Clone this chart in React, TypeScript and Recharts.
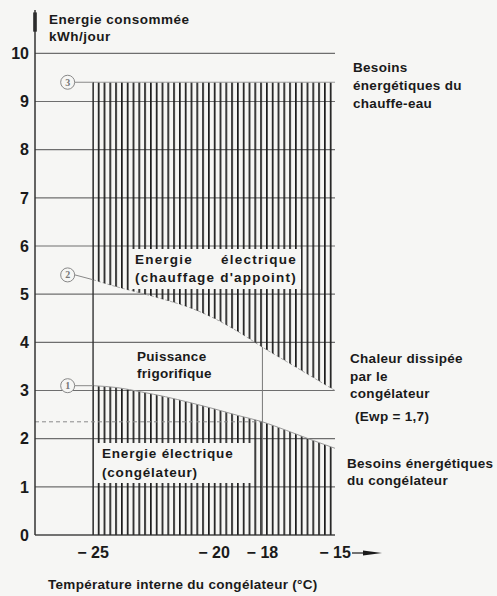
import {
  ComposedChart,
  Area,
  XAxis,
  YAxis,
  CartesianGrid,
  ReferenceLine,
  ReferenceDot,
} from 'recharts'

// temperature interne (°C) and energies (kWh/jour)
const temperatures = [-25, -24, -23, -22, -21, -20, -19, -18, -17, -16, -15]
const besoinsCongelateur = [3.1, 3.06, 2.97, 2.87, 2.75, 2.62, 2.48, 2.35, 2.17, 1.98, 1.8]
const chaleurDissipee = [5.3, 5.15, 5.02, 4.88, 4.72, 4.5, 4.22, 3.9, 3.6, 3.3, 3.0]
const besoinsChauffeEau = [9.4, 9.4, 9.4, 9.4, 9.4, 9.4, 9.4, 9.4, 9.4, 9.4, 9.4]

const xTicks = [-25, -20, -18, -15]
const yTicks = [0, 1, 2, 3, 4, 5, 6, 7, 8, 9, 10]

const data = temperatures.map((t, i) => ({
  t,
  bas: besoinsCongelateur[i],
  milieu: chaleurDissipee[i] - besoinsCongelateur[i],
  haut: besoinsChauffeEau[i] - chaleurDissipee[i],
}))

const BG = '#f6f6f4'
const INK = '#1a1a1a'
const FONT = '"Liberation Sans", Arial, sans-serif'

function XTick({ x, y, payload }: any) {
  const v = payload.value
  return (
    <g>
      <text
        x={x}
        y={y + 15}
        textAnchor="middle"
        fontFamily={FONT}
        fontWeight={700}
        fontSize={16}
        fill={INK}
      >
        {'\u2212 ' + Math.abs(v)}
      </text>
      {v === -15 && (
        <g>
          <line x1={x + 17} y1={y + 10} x2={x + 30} y2={y + 10} stroke={INK} strokeWidth={1.2} />
          <path d={`M${x + 28} ${y + 7.5} L${x + 47} ${y + 10} L${x + 28} ${y + 12.5} Z`} fill={INK} />
        </g>
      )}
    </g>
  )
}

const label: React.CSSProperties = {
  position: 'absolute',
  fontFamily: FONT,
  fontWeight: 700,
  fontSize: 13.5,
  letterSpacing: 0.3,
  color: INK,
  whiteSpace: 'nowrap',
}

export default function App() {
  return (
    <div
      style={{
        position: 'absolute',
        left: 0,
        top: 0,
        width: 497,
        height: 596,
        background: BG,
        overflow: 'hidden',
      }}
    >
      <ComposedChart
        width={497}
        height={596}
        data={data}
        margin={{ top: 10, right: 162, left: 0, bottom: 31 }}
      >
        <defs>
          <pattern id="hachures" patternUnits="userSpaceOnUse" x={92} y={0} width={5.8} height={12}>
            <rect x={0} y={0} width={1.7} height={12} fill="#1c1c1c" />
          </pattern>
        </defs>
        <CartesianGrid
          vertical={false}
          horizontalValues={yTicks}
          stroke="#6e6e6e"
          strokeWidth={1.2}
        />
        <XAxis
          dataKey="t"
          type="number"
          domain={[-27.4, -15]}
          ticks={xTicks}
          allowDataOverflow
          axisLine={{ stroke: '#333', strokeWidth: 1.2 }}
          tickLine={false}
          tick={<XTick />}
          height={30}
        />
        <YAxis
          type="number"
          domain={[0, 10.9]}
          ticks={yTicks}
          width={35}
          allowDataOverflow
          axisLine={{ stroke: '#333', strokeWidth: 1.5 }}
          tickLine={false}
          tickSize={0}
          tickMargin={6}
          tick={{ fontFamily: FONT, fontWeight: 700, fontSize: 16, fill: INK }}
        />
        <Area
          dataKey="bas"
          stackId="e"
          type="monotone"
          fill="url(#hachures)"
          fillOpacity={1}
          stroke="#999"
          strokeWidth={1}
          isAnimationActive={false}
        />
        <Area
          dataKey="milieu"
          stackId="e"
          type="monotone"
          fill="none"
          stroke="#aaa"
          strokeWidth={1}
          strokeDasharray="3 2"
          isAnimationActive={false}
        />
        <Area
          dataKey="haut"
          stackId="e"
          type="monotone"
          fill="url(#hachures)"
          fillOpacity={1}
          stroke="#999"
          strokeWidth={1}
          isAnimationActive={false}
        />
        {/* left edge of the hatched zone */}
        <ReferenceLine
          segment={[{ x: -25, y: 0 }, { x: -25, y: 9.4 }]}
          stroke="#333"
          strokeWidth={1.4}
        />
        {/* -18 °C guide and its level */}
        <ReferenceLine
          segment={[{ x: -18, y: 0 }, { x: -18, y: 3.9 }]}
          stroke="#777"
          strokeWidth={1}
        />
        <ReferenceLine
          segment={[{ x: -27.4, y: 2.35 }, { x: -18, y: 2.35 }]}
          stroke="#8a8a8a"
          strokeWidth={1}
          strokeDasharray="4 3"
        />
        {/* arrow head of the y axis */}
        <ReferenceLine
          segment={[{ x: -27.4, y: 10.45 }, { x: -27.4, y: 10.85 }]}
          stroke={INK}
          strokeWidth={3.5}
        />
        {/* circled curve numbers */}
        <ReferenceLine segment={[{ x: -25.75, y: 9.4 }, { x: -25, y: 9.4 }]} stroke="#888" />
        <ReferenceLine segment={[{ x: -25.75, y: 5.4 }, { x: -25, y: 5.3 }]} stroke="#888" />
        <ReferenceLine segment={[{ x: -25.75, y: 3.1 }, { x: -25, y: 3.1 }]} stroke="#888" />
        <ReferenceDot
          x={-26.05}
          y={9.4}
          r={7}
          fill={BG}
          stroke="#888"
          label={{ value: '3', position: 'center', fontSize: 10, fontWeight: 700, fill: '#777' }}
        />
        <ReferenceDot
          x={-26.05}
          y={5.4}
          r={7}
          fill={BG}
          stroke="#888"
          label={{ value: '2', position: 'center', fontSize: 10, fontWeight: 700, fill: '#777' }}
        />
        <ReferenceDot
          x={-26.05}
          y={3.1}
          r={7}
          fill={BG}
          stroke="#888"
          label={{ value: '1', position: 'center', fontSize: 10, fontWeight: 700, fill: '#777' }}
        />
      </ComposedChart>

      <div style={{ ...label, left: 49, top: 12, lineHeight: '16.5px', letterSpacing: 0.5 }}>
        Energie consommée
        <br />
        kWh/jour
      </div>
      <div style={{ ...label, left: 353, top: 59, lineHeight: '18px' }}>
        Besoins
        <br />
        énergétiques du
        <br />
        chauffe-eau
      </div>
      <div style={{ ...label, left: 350, top: 350, lineHeight: '17.5px' }}>
        Chaleur dissipée
        <br />
        par le
        <br />
        congélateur
      </div>
      <div style={{ ...label, left: 355, top: 409 }}>(Ewp = 1,7)</div>
      <div style={{ ...label, left: 347, top: 455, lineHeight: '17px' }}>
        Besoins énergétiques
        <br />
        du congélateur
      </div>
      <div
        style={{
          ...label,
          left: 131,
          top: 249,
          padding: '2px 4px',
          lineHeight: '18px',
          letterSpacing: 1.2,
          background: BG,
        }}
      >
        <div style={{ textAlign: 'justify', textAlignLast: 'justify' }}>Energie électrique</div>
        <div>(chauffage d'appoint)</div>
      </div>
      <div style={{ ...label, left: 137, top: 348, lineHeight: '17px' }}>
        Puissance
        <br />
        frigorifique
      </div>
      <div
        style={{
          ...label,
          left: 94,
          top: 443,
          width: 158,
          height: 40,
          padding: '1px 0 0 8px',
          boxSizing: 'border-box',
          lineHeight: '19px',
          letterSpacing: 0.8,
          background: BG,
        }}
      >
        Energie électrique
        <br />
        (congélateur)
      </div>
      <div style={{ ...label, left: 48, top: 577 }}>Température interne du congélateur (°C)</div>
    </div>
  )
}
